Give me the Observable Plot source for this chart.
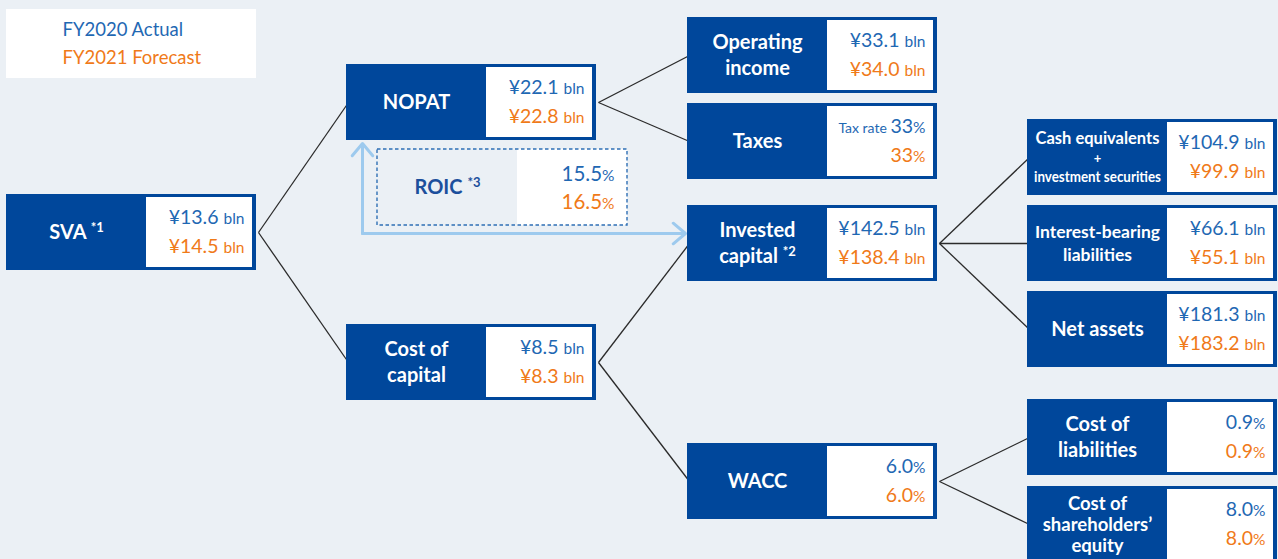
<!DOCTYPE html>
<html><head><meta charset="utf-8">
<script src="https://cdn.jsdelivr.net/npm/d3@7"></script>
<script src="https://cdn.jsdelivr.net/npm/@observablehq/plot@0.6"></script>
<style>html,body{margin:0;padding:0;background:#ebf0f5;overflow:hidden}</style>
</head><body><div id="chart"></div>
<script>
// ---------------- data ----------------
const legendLabels = ["FY2020 Actual", "FY2021 Forecast"];
const nodeLabels = [
  "SVA {^13|*1}", "NOPAT", "Cost of\ncapital", "Operating\nincome", "Taxes",
  "Invested\ncapital {^13|*2}", "WACC",
  "{16.5|Cash equivalents}\n{13|+}\n{14.5@127|investment securities}",
  "Interest-bearing\nliabilities", "Net assets", "Cost of\nliabilities",
  "Cost of\nshareholders’\nequity"
];
const actual   = [13.6, 22.1, 8.5, 33.1, 33, 142.5, 6.0, 104.9, 66.1, 181.3, 0.9, 8.0];
const forecast = [14.5, 22.8, 8.3, 34.0, 33, 138.4, 6.0, 99.9, 55.1, 183.2, 0.9, 8.0];
const units    = ["bln","bln","bln","bln","%","bln","%","bln","bln","bln","%","%"];
const decimals = [1,1,1,1,0,1,1,1,1,1,1,1];
const actualPrefix = ["","","","","Tax rate ","","","","","","",""];
const roicLabel = ["ROIC {^13|*3}"];
const roicValues = [15.5, 16.5];
const edges = [[0,1],[0,2],[1,3],[1,4],[2,5],[2,6],[5,7],[5,8],[5,9],[6,10],[6,11]];

// ---------------- layout & style ----------------
const colLeft = [6, 346, 687, 1027];
const nodeCol = [0,1,1,2,2,2,2,3,3,3,3,3];
const nodeTop = [194,64,324,17,103,205,443,119,205,291,399,486];
const labelSize = [20,20,20,20,20,20,20,15,17.5,20,20,18.5];
const labelLineHeight = [1.3,1.3,1.3,1.3,1.3,1.3,1.3,1.25,1.3,1.3,1.3,1.15];
const BOX_W = 250, BOX_H = 76, SPLIT = 140;
const legendBox = {x1: 6, x2: 256, y1: 9, y2: 78, textX: 62, rowY: [29.2, 57.2]};
const roicBox = {x1: 377, x2: 627, y1: 149, y2: 225, split: 517};
const arrowCorner = {x: 362, y: 233};
const seriesColors = ["#1f68b3", "#f07a19"];
const BOX_FILL = "#00479b", BG = "#ebf0f5";
const FONT = "Lato, 'Open Sans', sans-serif";

const nodes = nodeLabels.map((label, i) => ({
  i, label, x: colLeft[nodeCol[i]], y: nodeTop[i], size: labelSize[i], lh: labelLineHeight[i],
  lines: label.split("\n").length
}));
function fmt(v, i, prefix) {
  const num = v.toFixed(decimals[i]);
  const pre = prefix ? `{14|${prefix}}` : "";
  return units[i] === "bln" ? `¥${num} {15.5|bln}` : `${pre}${num}{15.5|%}`;
}
const valueRows = nodes.flatMap(n => [
  {n, row: 0, text: fmt(actual[n.i], n.i, actualPrefix[n.i])},
  {n, row: 1, text: fmt(forecast[n.i], n.i, "")}
]);
const links = edges.map(([p, c]) => ({p: nodes[p], c: nodes[c]}));
const roicRows = roicValues.map((v, row) => ({row, text: `${v.toFixed(1)}{15.5|%}`}));
const investedNode = nodes[5], nopatNode = nodes[1];
const arrows = [
  {x1: arrowCorner.x, y1: arrowCorner.y, x2: arrowCorner.x, y2: nopatNode.y + BOX_H + 3},
  {x1: arrowCorner.x, y1: arrowCorner.y, x2: investedNode.x - 2, y2: arrowCorner.y}
];
const labelGroups = [...new Set(labelLineHeight)];

const chart = Plot.plot({
  width: 1278, height: 559, margin: 0,
  x: {domain: [0, 1278], range: [0, 1278], axis: null},
  y: {domain: [0, 559], range: [0, 559], axis: null},
  color: {type: "identity"},
  style: {background: BG, fontFamily: FONT, overflow: "hidden"},
  marks: [
    // legend
    Plot.rect([legendBox], {x1: "x1", x2: "x2", y1: "y1", y2: "y2", fill: "white"}),
    Plot.text(legendLabels, {x: legendBox.textX, y: (d, i) => legendBox.rowY[i], text: d => d,
      fill: (d, i) => seriesColors[i], textAnchor: "start", fontSize: 18.5, fontFamily: FONT}),
    // connectors
    Plot.link(links, {x1: d => d.p.x + BOX_W + 2, y1: d => d.p.y + BOX_H / 2,
      x2: d => d.c.x + 2, y2: d => d.c.y + BOX_H / 2, stroke: "#2b2b2b", strokeWidth: 1.3}),
    // boxes
    Plot.rect(nodes, {x1: d => d.x, x2: d => d.x + BOX_W, y1: d => d.y, y2: d => d.y + BOX_H, fill: BOX_FILL}),
    Plot.rect(nodes, {x1: d => d.x + SPLIT, x2: d => d.x + BOX_W - 4, y1: d => d.y + 3, y2: d => d.y + BOX_H - 3, fill: "white"}),
    // ROIC
    Plot.rect([roicBox], {x1: "split", x2: "x2", y1: "y1", y2: "y2", fill: "white"}),
    Plot.rect([roicBox], {x1: "x1", x2: "x2", y1: "y1", y2: "y2", fill: "none",
      stroke: "#2f6fb5", strokeWidth: 1.4, strokeDasharray: "3.5,2.5"}),
    Plot.arrow(arrows, {x1: "x1", y1: "y1", x2: "x2", y2: "y2", stroke: "#9dcaee",
      strokeWidth: 3, headLength: 8, headAngle: 80}),
    // labels (one mark per line height)
    ...labelGroups.map(lh => Plot.text(nodes.filter(d => d.lh === lh), {
      x: d => d.x + SPLIT / 2, y: d => d.y + BOX_H / 2 - (d.lines < 3 ? 1.5 : 0.5),
      text: "label", fill: "white", fontSize: "size", fontWeight: 700, lineHeight: lh, fontFamily: FONT})),
    Plot.text(roicLabel, {x: (roicBox.x1 + roicBox.split) / 2, y: (roicBox.y1 + roicBox.y2) / 2,
      text: d => d, fill: "#1c4f9c", fontSize: 20, fontWeight: 700, fontFamily: FONT}),
    // values
    Plot.text(valueRows, {x: d => d.n.x + 238, y: d => d.n.y + (d.row ? 52.6 : 23), text: "text",
      fill: d => seriesColors[d.row], textAnchor: "end", fontSize: 19.5, fontFamily: FONT}),
    Plot.text(roicRows, {x: roicBox.x2 - 13, y: d => d.row ? 201.6 : 173.6, text: "text",
      fill: d => seriesColors[d.row], textAnchor: "end", fontSize: 20.5, fontFamily: FONT})
  ]
});

// rich text: {size|text} -> sized tspan, {size@len|text} -> sized & fitted, {^size|text} -> superscript
const NS = "http://www.w3.org/2000/svg";
const re = /\{(\^?)([\d.]+)(?:@([\d.]+))?\|([^}]*)\}/g;
const leaves = [...chart.querySelectorAll("text, tspan")].filter(el =>
  [...el.childNodes].every(n => n.nodeType === 3) && el.textContent.includes("{"));
for (const el of leaves) {
  const s = el.textContent;
  el.textContent = "";
  let last = 0;
  for (const m of s.matchAll(re)) {
    if (m.index > last) el.appendChild(document.createTextNode(s.slice(last, m.index)));
    const t = document.createElementNS(NS, "tspan");
    t.setAttribute("font-size", m[2]);
    if (m[1]) t.setAttribute("dy", "-0.55em");
    t.textContent = m[4];
    el.appendChild(t);
    if (m[3]) {
      el.setAttribute("textLength", m[3]);
      el.setAttribute("lengthAdjust", "spacingAndGlyphs");
    }
    last = m.index + m[0].length;
  }
  if (last < s.length) el.appendChild(document.createTextNode(s.slice(last)));
}
document.getElementById("chart").appendChild(chart);
</script>
</body></html>
